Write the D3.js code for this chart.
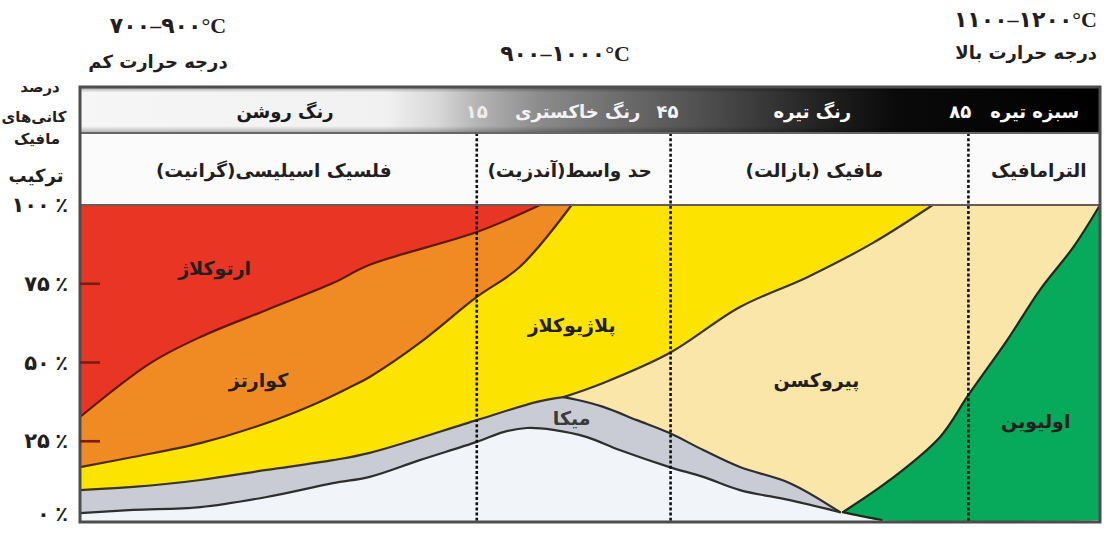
<!DOCTYPE html>
<html><head><meta charset="utf-8">
<script src="https://cdn.jsdelivr.net/npm/d3@7/dist/d3.min.js"></script>
<style>
html,body{margin:0;padding:0;background:#fff;}
svg{display:block;}
</style></head>
<body>
<svg id="chart" width="1107" height="536"></svg>
<script>
// ---------- DATA (x: 0..100 along composition, y: 0..100 % mafic composition) ----------
const yTicks = [0, 25, 50, 75, 100];
const yTickLabels = ["۰ ٪", "۲۵ ٪", "۵۰ ٪", "۷۵ ٪", "۱۰۰ ٪"];
const rockTypes = ["فلسیک اسیلیسی(گرانیت)", "حد واسط(آندزیت)", "مافیک (بازالت)", "الترامافیک"];
const rockCenters = [19, 48, 72, 94];          // x positions of rock-type labels
const rockDividers = [38.9, 57.9, 87.1];        // dashed boundaries
const colorTerms = ["رنگ روشن", "۱۵", "رنگ خاکستری", "۴۵", "رنگ تیره", "۸۵", "سبزه تیره"];
const colorTermX = [20.1, 38.9, 48.8, 57.6, 71.8, 86.3, 93.6];
const tempLabels = ["۷۰۰–۹۰۰°C", "۹۰۰–۱۰۰۰°C", "۱۱۰۰–۱۲۰۰°C"];
const tempTitles = ["درجه حرارت کم", "درجه حرارت بالا"];
const yTitle = ["درصد", "کانی‌های", "مافیک", "ترکیب"];

// boundaries between mineral fields
const orthoQuartz = [[0,32.7],[6.9,49.8],[11.8,58.1],[18.3,66.7],[24.8,75.2],[28.4,81.0],[38.9,91.4],[45.1,100]];
const quartzPlag = [[0,16.8],[5.2,20.0],[11.8,24.4],[18.3,30.8],[23.2,37.1],[26.5,42.2],[28.4,45.4],[33.3,56.2],[38.9,70.8],[43.1,80.3],[48.2,100]];
const plagBaseLeft = [[0,9.5],[5.2,10.5],[11.8,12.7],[18.3,15.9],[24.8,19.0],[28.4,21.3],[38.9,31.7],[44.8,37.5],[47.4,39.0]];
const plagBaseRight = [[47.4,39.0],[51.3,43.5],[57.8,53.0],[64.7,67.6],[71.3,77.1],[77.7,87.9],[83.6,100]];
const micaTop = [[47.4,39.0],[48.8,38.1],[51.3,35.9],[54.6,31.7],[57.8,27.6],[61.1,22.2],[64.7,16.8],[69.6,11.7],[74.5,2.5]];
const micaBase = [[0,2.2],[5.2,3.2],[11.8,4.1],[18.3,7.3],[24.8,11.7],[28.4,13.7],[33.3,19.0],[38.9,24.8],[41.5,27.9],[43.8,29.2],[46.4,28.6],[49.7,26.3],[52.9,22.2],[57.8,16.8],[61.1,13.7],[64.7,9.5],[69.6,6.3],[74.5,2.5]];
const pyroxeneOlivine = [[74.8,2.5],[79.4,12.7],[84.3,26.3],[87.1,39.7],[90.9,57.1],[94.1,73.0],[97.4,86.7],[100,100]];
const olivineBase = [[74.8,2.5],[76.5,1.3],[78.6,0],[100,0]];

const minerals = ["ارتوکلاژ", "کوارتز", "پلاژیوکلاز", "میکا", "پیروکسن", "اولیوین"];
const mineralPos = [[13.2,80],[17.5,44.5],[48.2,62],[48.2,32.5],[72.2,44.5],[93.7,31.5]];
const mineralColors = ["#e93524", "#f08a22", "#fde400", "#c9ccd4", "#fbe6a9", "#07a95a"];

// ---------- LAYOUT ----------
const svg = d3.select("#chart");
const L = 80, R = 1100, T = 205, B = 520;
const bandTop = 87, bandBot = 133;
const x = d3.scaleLinear().domain([0,100]).range([L,R]);
const y = d3.scaleLinear().domain([0,100]).range([B,T]);
const FA = "'DejaVu Sans', sans-serif";
const FT = "'Liberation Serif', 'DejaVu Sans', serif";

// gradient for colour band
const defs = svg.append("defs");
const grad = defs.append("linearGradient").attr("id","band").attr("gradientUnits","userSpaceOnUse")
  .attr("x1",L).attr("x2",R).attr("y1",0).attr("y2",0);
[[0,"#f6f6f6"],[0.30,"#f1f1f1"],[0.35,"#d8d8d8"],[0.39,"#b4b4b4"],[0.45,"#8c8c8c"],[0.53,"#6c6c6c"],
 [0.63,"#484848"],[0.72,"#242424"],[0.80,"#0a0a0a"],[1,"#000"]]
  .forEach(s => grad.append("stop").attr("offset",s[0]).attr("stop-color",s[1]));
const vg = defs.append("linearGradient").attr("id","bevel").attr("x1",0).attr("x2",0).attr("y1",0).attr("y2",1);
[[0,"rgba(0,0,0,0.35)"],[0.12,"rgba(0,0,0,0)"],[0.85,"rgba(0,0,0,0)"],[1,"rgba(0,0,0,0.3)"]]
  .forEach(s => vg.append("stop").attr("offset",s[0]).attr("stop-color",s[1]));

// band + header row
svg.append("rect").attr("x",L).attr("y",bandTop).attr("width",R-L).attr("height",bandBot-bandTop).attr("fill","url(#band)");
svg.append("rect").attr("x",L).attr("y",bandTop).attr("width",R-L).attr("height",bandBot-bandTop).attr("fill","url(#bevel)");
svg.append("rect").attr("x",L).attr("y",bandBot).attr("width",R-L).attr("height",T-bandBot).attr("fill","#fbfbfc");

// plot background (lowest white field)
svg.append("rect").attr("x",L).attr("y",T).attr("width",R-L).attr("height",B-T+2).attr("fill","#f1f4f8");

// ---------- REGIONS ----------
const line = d3.line().x(d=>x(d[0])).y(d=>y(d[1])).curve(d3.curveCatmullRom.alpha(0.5));
const rev = a => a.slice().reverse();
const seg = a => line(a).replace(/^M/, "L");
function region(parts){ return line(parts[0]) + parts.slice(1).map(seg).join("") + "Z"; }

const regions = [
  region([[[0,100],[45.1,100]], rev(orthoQuartz)]),
  region([orthoQuartz, [[45.1,100],[48.2,100]], rev(quartzPlag)]),
  region([quartzPlag, [[48.2,100],[83.6,100]], rev(plagBaseRight), rev(plagBaseLeft)]),
  region([plagBaseLeft, micaTop, rev(micaBase)]),
  region([plagBaseRight, [[83.6,100],[100,100]], rev(pyroxeneOlivine), rev(micaTop)]),
  region([pyroxeneOlivine, [[100,100],[100,0]], rev(olivineBase)])
];
svg.append("g").selectAll("path").data(regions).join("path")
  .attr("d", d=>d).attr("fill",(d,i)=>mineralColors[i]).attr("stroke",(d,i)=>mineralColors[i]).attr("stroke-width",0.8);

// boundary lines
const bounds = [orthoQuartz, quartzPlag, plagBaseLeft, plagBaseRight, micaTop, micaBase, pyroxeneOlivine, olivineBase.slice(0,3)];
const boundColors = ["#5e1a10", "#4a2a12", "#3a3418", "#3a3418", "#2e2e2e", "#2e2e2e", "#1f2a1f", "#1f2a1f"];
svg.append("g").selectAll("path").data(bounds).join("path")
  .attr("d", d=>line(d)).attr("fill","none").attr("stroke",(d,i)=>boundColors[i]).attr("stroke-width",2.2)
  .attr("stroke-linejoin","round").attr("stroke-linecap","round");

// dashed dividers
svg.append("g").selectAll("line").data(rockDividers).join("line")
  .attr("x1",d=>x(d)).attr("x2",d=>x(d)).attr("y1",bandBot).attr("y2",B+1)
  .attr("stroke","#111").attr("stroke-width",2.6).attr("stroke-dasharray","3,2.2");

// frame lines
svg.append("line").attr("x1",L).attr("x2",R).attr("y1",bandBot).attr("y2",bandBot).attr("stroke","#666").attr("stroke-width",2);
svg.append("line").attr("x1",L).attr("x2",R).attr("y1",T).attr("y2",T).attr("stroke","#6a5a55").attr("stroke-width",2.2);
svg.append("rect").attr("x",L).attr("y",bandTop).attr("width",R-L).attr("height",B+2-bandTop)
  .attr("fill","none").attr("stroke","#4d4d4d").attr("stroke-width",3);

// y ticks
svg.append("g").selectAll("line").data(yTicks.filter(d=>d>0 && d<100)).join("line")
  .attr("x1",L).attr("x2",L+20).attr("y1",d=>y(d)).attr("y2",d=>y(d))
  .attr("stroke","#7a1c10").attr("stroke-width",2.6);
svg.append("g").selectAll("text").data(yTicks).join("text")
  .attr("x",68).attr("y",d=>y(d)+(d===0?1:7)).attr("text-anchor","end")
  .attr("font-family",FT).attr("font-weight","bold").attr("font-size",21).attr("fill","#231f20")
  .text((d,i)=>yTickLabels[i]);

// y title
const yTitleY = [92, 122, 144, 182];
const yTitleX = [40, 34, 37, 36];
const yTitleS = [15, 15, 15, 18];
svg.append("g").selectAll("text").data(yTitle).join("text")
  .attr("x",(d,i)=>yTitleX[i]).attr("y",(d,i)=>yTitleY[i]).attr("text-anchor","middle").attr("direction","rtl")
  .attr("font-family",FA).attr("font-weight","bold").attr("font-size",(d,i)=>yTitleS[i]).attr("fill","#231f20")
  .text(d=>d);

// colour-band terms
const termFill = ["#1a1a1a","#eeeeee","#f3f3f3","#f3f3f3","#ffffff","#ffffff","#ffffff"];
svg.append("g").selectAll("text").data(colorTerms).join("text")
  .attr("x",(d,i)=>x(colorTermX[i])).attr("y",118).attr("text-anchor","middle").attr("direction","rtl")
  .attr("font-family",FA).attr("font-weight","bold").attr("font-size",18).attr("fill",(d,i)=>termFill[i])
  .text(d=>d);

// rock types
svg.append("g").selectAll("text").data(rockTypes).join("text")
  .attr("x",(d,i)=>x(rockCenters[i])).attr("y",177).attr("text-anchor","middle").attr("direction","rtl")
  .attr("font-family",FA).attr("font-weight","bold").attr("font-size",18.5).attr("fill","#231f20")
  .text(d=>d);

// mineral labels
svg.append("g").selectAll("text").data(minerals).join("text")
  .attr("x",(d,i)=>x(mineralPos[i][0])).attr("y",(d,i)=>y(mineralPos[i][1])+7).attr("text-anchor","middle").attr("direction","rtl")
  .attr("font-family",FA).attr("font-weight","bold").attr("font-size",19).attr("fill",(d,i)=>i===3?"#3a3a3a":"#231f20")
  .text(d=>d);

// temperature labels
const tempPos = [[168,33,"middle"],[565,61,"middle"],[1097,27,"end"]];
svg.append("g").selectAll("text").data(tempLabels).join("text")
  .attr("x",(d,i)=>tempPos[i][0]).attr("y",(d,i)=>tempPos[i][1]).attr("text-anchor",(d,i)=>tempPos[i][2])
  .attr("font-family",FT).attr("font-weight","bold").attr("font-size",22).attr("fill","#231f20")
  .text(d=>d);
const titlePos = [[158,68,"middle",18],[1097,59,"end",18]];
svg.append("g").selectAll("text").data(tempTitles).join("text")
  .attr("x",(d,i)=>titlePos[i][0]).attr("y",(d,i)=>titlePos[i][1])
  .attr("text-anchor",(d,i)=> i===0 ? "middle" : "start").attr("direction","rtl")
  .attr("font-family",FA).attr("font-weight","bold").attr("font-size",(d,i)=>titlePos[i][3]).attr("fill","#231f20")
  .text(d=>d);
</script>
</body></html>
